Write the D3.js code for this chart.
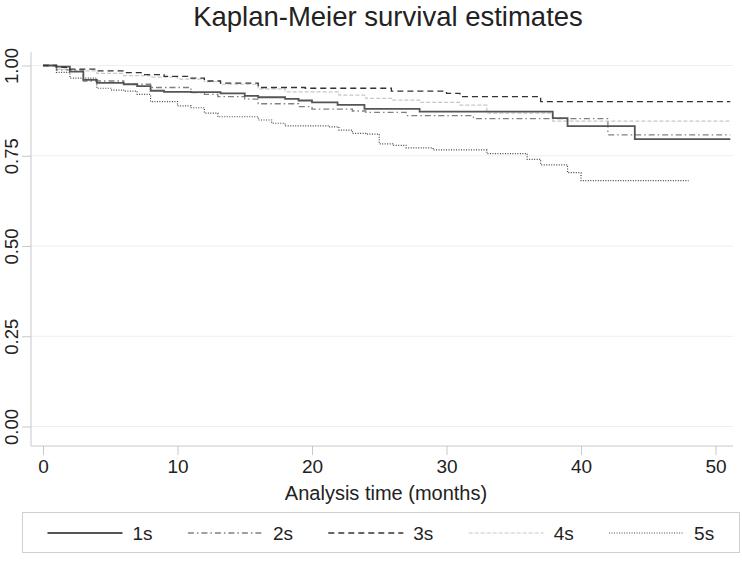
<!DOCTYPE html>
<html><head><meta charset="utf-8">
<script src="https://cdn.jsdelivr.net/npm/d3@7/dist/d3.min.js"></script>
<style>body{margin:0;background:#fff}svg{display:block;font-family:"Liberation Sans",Arial,Helvetica,sans-serif}</style>
</head><body><svg id="c" width="742" height="561"></svg>
<script>
const seriesNames = ["1s","2s","3s","4s","5s"];
const xTicks = [0,10,20,30,40,50];
const yTicks = [0,0.25,0.5,0.75,1];
const yTickLabels = ["0.00","0.25","0.50","0.75","1.00"];
const t1 = [0,1,2,3,4,6,7,8,9,11,13.2,15,16,18,19,20,21.9,23.9,28,37.9,39,44,51.1];
const s1 = [1,0.997,0.983,0.960,0.952,0.948,0.943,0.930,0.927,0.926,0.923,0.916,0.912,0.9075,0.903,0.898,0.891,0.880,0.872,0.854,0.832,0.796,0.796];
const t2 = [0,1,3,6,8,11,12,13,15,16,19,20,23,24,27,32,42,51.1];
const s2 = [1,0.988,0.957,0.948,0.939,0.925,0.920,0.914,0.907,0.894,0.886,0.879,0.874,0.870,0.861,0.853,0.808,0.808];
const t3 = [0,1,2,4,6,7.5,9,11,12,13.2,16,19.5,25.9,30,31,37,51.1];
const s3 = [1,0.995,0.990,0.985,0.980,0.975,0.970,0.965,0.957,0.951,0.939,0.937,0.929,0.923,0.914,0.900,0.900];
const t4 = [0,1,2,4,6,8,10,12,13.2,16,18,22,24,26,28,31,33,37.9,51.1];
const s4 = [1,0.99,0.985,0.978,0.972,0.968,0.962,0.955,0.948,0.935,0.927,0.918,0.909,0.904,0.898,0.890,0.868,0.846,0.846];
const t5 = [0,1,2,4,5.1,6,7,8,10,11,12,13,16,17,18,21.2,22,23,24,25,26,27,29,33,36,37,39,40,48];
const s5 = [1,0.981,0.965,0.937,0.932,0.929,0.920,0.900,0.888,0.883,0.868,0.858,0.849,0.840,0.833,0.830,0.821,0.812,0.810,0.783,0.779,0.772,0.766,0.756,0.740,0.725,0.703,0.681,0.681];

const times = [t1,t2,t3,t4,t5];
const survs = [s1,s2,s3,s4,s5];
const styles = [
  {stroke:"#555", w:1.8, dash:null},
  {stroke:"#808080", w:1.3, dash:"6,3,1.5,3"},
  {stroke:"#333", w:1.3, dash:"6,4"},
  {stroke:"#c8c8c8", w:1.2, dash:"4,2"},
  {stroke:"#444", w:1.2, dash:"1,1.5"}
];

const svg = d3.select("#c");
const x = d3.scaleLinear().domain([0,50]).range([43,715.5]);
const y = d3.scaleLinear().domain([0,1]).range([426.5,65.5]);

// title
svg.append("text").attr("x",388).attr("y",26).attr("text-anchor","middle")
  .attr("font-size",27.5).attr("fill","#222").text("Kaplan-Meier survival estimates");

// gridlines
svg.append("g").selectAll("line").data(yTicks).join("line")
  .attr("x1",31).attr("x2",733).attr("y1",d=>y(d)).attr("y2",d=>y(d))
  .attr("stroke","#eeeeee").attr("stroke-width",1);

// y axis
const yAxis = d3.axisLeft(y).tickValues(yTicks).tickFormat((d,i)=>yTickLabels[i]).tickSize(9).tickSizeOuter(0);
const gy = svg.append("g").attr("transform","translate(31,0)").call(yAxis);
gy.select(".domain").remove();
gy.selectAll(".tick line").attr("stroke","#c8c8c8");
gy.selectAll(".tick text").attr("x",0).attr("dy",0).attr("text-anchor","middle")
  .attr("transform","translate(-13,0) rotate(-90)").attr("font-size",18.5).attr("fill","#222");
svg.append("line").attr("x1",31).attr("x2",31).attr("y1",52).attr("y2",446).attr("stroke","#c8c8c8");

// x axis
const xAxis = d3.axisBottom(x).tickValues(xTicks).tickSize(9).tickSizeOuter(0);
const gx = svg.append("g").attr("transform","translate(0,446)").call(xAxis);
gx.select(".domain").remove();
gx.selectAll(".tick line").attr("stroke","#c8c8c8");
gx.selectAll(".tick text").attr("y",14).attr("font-size",19).attr("fill","#222");
svg.append("line").attr("x1",31).attr("x2",733).attr("y1",446).attr("y2",446).attr("stroke","#c8c8c8");

svg.append("text").attr("x",386).attr("y",500).attr("text-anchor","middle")
  .attr("font-size",20).attr("fill","#222").text("Analysis time (months)");

// curves
const line = d3.line().curve(d3.curveStepAfter).x(d=>x(d[0])).y(d=>y(d[1]));
const order = [3,1,0,2,4];
order.forEach(i=>{
  const pts = times[i].map((t,k)=>[t,survs[i][k]]);
  svg.append("path").attr("d",line(pts)).attr("fill","none")
    .attr("stroke",styles[i].stroke).attr("stroke-width",styles[i].w)
    .attr("stroke-dasharray",styles[i].dash);
});

// legend
svg.append("rect").attr("x",22.5).attr("y",512.5).attr("width",717).attr("height",40)
  .attr("fill","#fff").attr("stroke","#d0d0d0");
const lg = svg.append("g").selectAll("g").data(seriesNames).join("g")
  .attr("transform",(d,i)=>`translate(${47.5+140.4*i},533)`);
lg.append("line").attr("x1",0).attr("x2",75).attr("y1",0).attr("y2",0)
  .attr("stroke",(d,i)=>styles[i].stroke).attr("stroke-width",(d,i)=>styles[i].w)
  .attr("stroke-dasharray",(d,i)=>styles[i].dash);
lg.append("text").attr("x",85).attr("y",7).attr("font-size",19).attr("fill","#222").text(d=>d);
</script></body></html>
